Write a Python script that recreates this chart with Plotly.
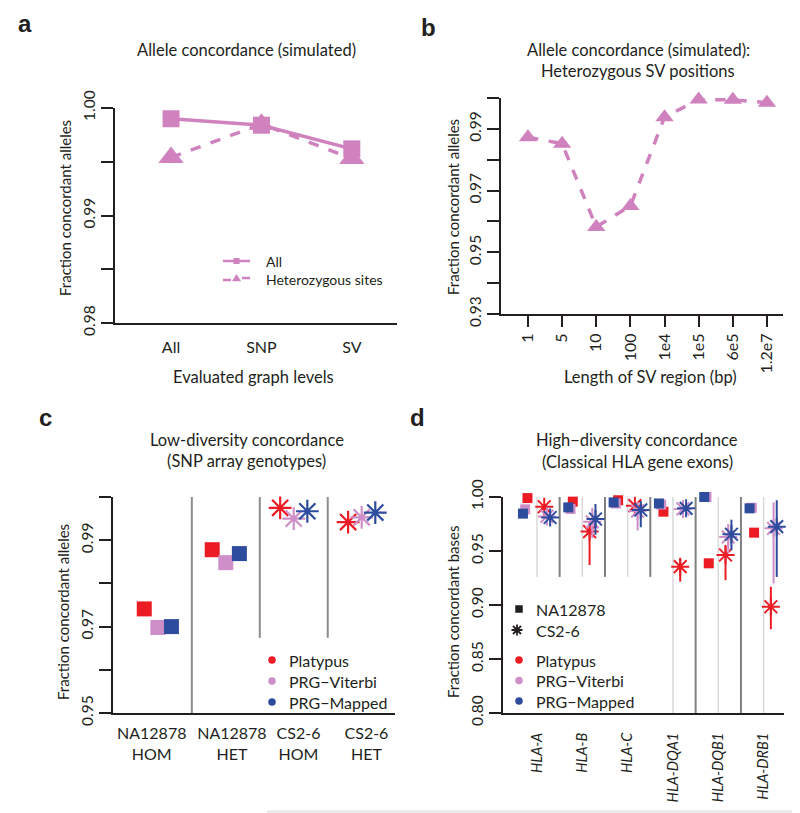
import plotly.graph_objects as go

# The page body adds an 8px margin, so the figure is 792x805 and every
# reference pixel position is shifted by 8px.
W, H = 800, 813
OFF = 8
FW, FH = W - OFF, H - OFF
FONT = "Lato"
TXT = "#231f20"
PINK_A = "#CF82BE"
RED = "#EC1C24"
PINK = "#CE8EC8"
BLUE = "#2E4C9E"

# ---------------- data ----------------
# Panel a
levels = ["All", "SNP", "SV"]
conc_all = [0.9990, 0.9984, 0.9962]
conc_het = [0.9954, 0.9985, 0.9953]

# Panel b
sv_lengths = ["1", "5", "10", "100", "1e4", "1e5", "6e5", "1.2e7"]
sv_het_conc = [0.9873, 0.9852, 0.9582, 0.9650, 0.9938, 0.9995, 0.9994, 0.9985]

# Panel c
snp_groups = ["NA12878<br>HOM", "NA12878<br>HET", "CS2-6<br>HOM", "CS2-6<br>HET"]
snp_group_sample = ["NA12878", "NA12878", "CS2-6", "CS2-6"]
snp_platypus = [0.9741, 0.9878, 0.9975, 0.9942]
snp_viterbi = [0.9698, 0.9848, 0.9950, 0.9953]
snp_mapped = [0.9700, 0.9869, 0.9967, 0.9964]

# Panel d
genes = ["HLA-A", "HLA-B", "HLA-C", "HLA-DQA1", "HLA-DQB1", "HLA-DRB1"]
na_platypus = [0.9990, 0.9957, 0.9970, 0.9864, 0.9386, 0.9670]
na_viterbi = [0.9886, 0.9890, 0.9940, 0.9930, 1.0000, 0.9900]
na_mapped = [0.9846, 0.9904, 0.9950, 0.9940, 1.0000, 0.9895]
cs_platypus = [0.9910, 0.9680, 0.9920, 0.9355, 0.9463, 0.8984]
cs_viterbi = [0.9820, 0.9770, 0.9870, 0.9890, 0.9630, 0.9710]
cs_mapped = [0.9810, 0.9796, 0.9880, 0.9895, 0.9655, 0.9725]
cs_platypus_lo = [None, 0.9370, None, 0.9216, 0.9230, 0.8775]
cs_platypus_hi = [None, 0.9740, None, 0.9426, 0.9556, 0.9170]
cs_viterbi_lo = [None, 0.9620, 0.9690, None, 0.9480, 0.9200]
cs_viterbi_hi = [None, 0.9900, 0.9920, None, 0.9750, 0.9950]
cs_mapped_lo = [None, 0.9650, 0.9720, None, 0.9510, 0.9260]
cs_mapped_hi = [None, 0.9935, 0.9940, None, 0.9790, 0.9970]

methods = ["Platypus", "PRG\u2212Viterbi", "PRG\u2212Mapped"]
samples = ["NA12878", "CS2-6"]
method_colors = [RED, PINK, BLUE]


def px(x):
    return (x - OFF) / FW


def py(y):
    return 1 - (y - OFF) / FH


def xd(p0, p1):
    return [px(p0), px(p1)]


def yd(top, bottom):
    return [py(bottom), py(top)]


fig = go.Figure()

# ---------------- panel a ----------------
xa = list(range(1, len(levels) + 1))
fig.add_trace(go.Scatter(x=xa, y=conc_all, mode="lines+markers", xaxis="x", yaxis="y",
                         line=dict(color=PINK_A, width=3.5),
                         marker=dict(symbol="square", size=17, color=PINK_A, opacity=1),
                         showlegend=False, cliponaxis=False))
fig.add_trace(go.Scatter(x=xa, y=conc_het, mode="lines+markers", xaxis="x", yaxis="y",
                         line=dict(color=PINK_A, width=3.5, dash="dash"),
                         marker=dict(symbol="triangle-up", size=22, color=PINK_A, opacity=1),
                         showlegend=False, cliponaxis=False))

# ---------------- panel b ----------------
xb = list(range(1, len(sv_lengths) + 1))
fig.add_trace(go.Scatter(x=xb, y=sv_het_conc, mode="lines+markers", xaxis="x2", yaxis="y2",
                         line=dict(color=PINK_A, width=3.5, dash="dash"),
                         marker=dict(symbol="triangle-up", size=16, color=PINK_A, opacity=1),
                         showlegend=False, cliponaxis=False))

# ---------------- panel c ----------------
c_offsets = [-0.2, 0.0, 0.2]
c_series = [snp_platypus, snp_viterbi, snp_mapped]
for m, (vals, col, off) in enumerate(zip(c_series, method_colors, c_offsets)):
    xs = [i + 1 + off for i in range(len(snp_groups))]
    symbols = ["square" if s == "NA12878" else "asterisk-open" for s in snp_group_sample]
    sizes = [15 if s == "NA12878" else 19 for s in snp_group_sample]
    lw = [0 if s == "NA12878" else 2.2 for s in snp_group_sample]
    fig.add_trace(go.Scatter(x=xs, y=vals, mode="markers", xaxis="x3", yaxis="y3",
                             name=methods[m],
                             marker=dict(symbol=symbols, size=sizes, color=col, opacity=1,
                                         line=dict(color=col, width=lw)),
                             showlegend=False, cliponaxis=False))

# ---------------- panel d ----------------
na_series = [na_platypus, na_viterbi, na_mapped]
cs_series = [cs_platypus, cs_viterbi, cs_mapped]
cs_lo = [cs_platypus_lo, cs_viterbi_lo, cs_mapped_lo]
cs_hi = [cs_platypus_hi, cs_viterbi_hi, cs_mapped_hi]
na_off = [-0.21, -0.26, -0.31]
cs_off = [0.16, 0.22, 0.29]
for m in range(3):
    col = method_colors[m]
    xs = [i + 1 + na_off[m] for i in range(len(genes))]
    fig.add_trace(go.Scatter(x=xs, y=na_series[m], mode="markers", xaxis="x4", yaxis="y4",
                             name=methods[m] + " NA12878",
                             marker=dict(symbol="square", size=10, color=col, opacity=1),
                             showlegend=False, cliponaxis=False))
for m in range(3):
    col = method_colors[m]
    xs = [i + 1 + cs_off[m] for i in range(len(genes))]
    vals = cs_series[m]
    plus = [(h - v) if h is not None else 0 for v, h in zip(vals, cs_hi[m])]
    minus = [(v - l) if l is not None else 0 for v, l in zip(vals, cs_lo[m])]
    fig.add_trace(go.Scatter(x=xs, y=vals, mode="markers", xaxis="x4", yaxis="y4",
                             name=methods[m] + " CS2-6",
                             marker=dict(symbol="asterisk-open", size=15, color=col, opacity=1,
                                         line=dict(color=col, width=2)),
                             error_y=dict(type="data", symmetric=False, array=plus,
                                          arrayminus=minus, color=col, thickness=2, width=0),
                             showlegend=False, cliponaxis=False))

# ---------------- shapes: separators ----------------
shapes = []
n_c = len(snp_groups)
for k in range(1, n_c):
    y0 = 0.95 if k == 1 else 0.9674
    shapes.append(dict(type="line", xref="x3", yref="y3", x0=k + 0.5, x1=k + 0.5,
                       y0=y0, y1=1.0, line=dict(color="#8c8c8c", width=2), layer="below"))
n_d = len(genes)
for k in range(1, n_d + 1):
    y0 = 0.926 if k <= 3 else 0.80
    shapes.append(dict(type="line", xref="x4", yref="y4", x0=k, x1=k,
                       y0=y0, y1=1.0, line=dict(color="#d9d9d9", width=1.5), layer="below"))
for k in range(1, n_d):
    y0 = 0.926 if k <= 3 else 0.80
    shapes.append(dict(type="line", xref="x4", yref="y4", x0=k + 0.5, x1=k + 0.5,
                       y0=y0, y1=1.0, line=dict(color="#808080", width=2), layer="below"))
shapes.append(dict(type="line", xref="paper", yref="paper", x0=px(267), x1=1.0,
                   y0=py(811.5), y1=py(811.5), line=dict(color="#e4e4e4", width=2)))


# ---------------- legend glyphs (drawn as shapes) ----------------
def glyph(cx, cy, kind, size, color, lw=1.6):
    s = dict(xref="paper", yref="paper", xsizemode="pixel", ysizemode="pixel",
             xanchor=px(cx), yanchor=py(cy), layer="above")
    h = size / 2.0
    if kind == "square":
        s.update(type="rect", x0=-h, x1=h, y0=-h, y1=h, fillcolor=color, line=dict(width=0))
    elif kind == "circle":
        s.update(type="circle", x0=-h, x1=h, y0=-h, y1=h, fillcolor=color, line=dict(width=0))
    elif kind == "triangle":
        s.update(type="path", path="M%.1f,%.1f L%.1f,%.1f L0,%.1f Z" % (-h, -h * 0.6, h, -h * 0.6, h * 1.0),
                 fillcolor=color, line=dict(width=0))
    elif kind == "asterisk":
        d = h * 0.72
        s.update(type="path",
                 path="M0,%.1f L0,%.1f M%.1f,0 L%.1f,0 M%.1f,%.1f L%.1f,%.1f M%.1f,%.1f L%.1f,%.1f"
                      % (h, -h, -h, h, -d, -d, d, d, -d, d, d, -d),
                 line=dict(color=color, width=lw))
    return s


def seg(x0, x1, y, color, width):
    return dict(type="line", xref="paper", yref="paper", x0=px(x0), x1=px(x1), y0=py(y), y1=py(y),
                line=dict(color=color, width=width), layer="above")


# panel a legend
shapes.append(seg(223, 250, 261, PINK_A, 2.5))
shapes.append(glyph(236.5, 261, "square", 6, PINK_A))
shapes.append(seg(223, 231, 280, PINK_A, 2.5))
shapes.append(seg(242, 250, 278, PINK_A, 2.5))
shapes.append(glyph(236.5, 278.5, "triangle", 9, PINK_A))
# panel c legend
for m in range(3):
    shapes.append(glyph(272, 660 + 21 * m, "circle", 7.5, method_colors[m]))
# panel d legend
shapes.append(glyph(519, 609, "square", 7.5, TXT))
shapes.append(glyph(517, 630, "asterisk", 11, TXT, 1.8))
for m in range(3):
    shapes.append(glyph(519, 660 + 20.5 * m, "circle", 7.5, method_colors[m]))

# ---------------- axes ----------------
tf = dict(family=FONT, size=15.5, color=TXT)
tfx = dict(family=FONT, size=16, color=TXT)
tfd = dict(family=FONT, size=14.5, color=TXT)
common = dict(showline=True, linewidth=2, linecolor=TXT, showgrid=False, zeroline=False,
              tickcolor=TXT, tickwidth=2, tickfont=tf, automargin=False)


def yticks(lo, hi, step, labelevery):
    n = int(round((hi - lo) / step))
    vals = [round(lo + i * step, 4) for i in range(n + 1)]
    text = [("%.2f" % v) if i % labelevery == 0 else "" for i, v in enumerate(vals)]
    return vals, text


ya_v, ya_t = yticks(0.98, 1.00, 0.005, 2)
yb_v, yb_t = yticks(0.93, 1.00, 0.01, 2)
yc_v, yc_t = yticks(0.95, 1.00, 0.01, 2)
yd_v, yd_t = yticks(0.80, 1.00, 0.05, 1)

# label anchor positions for panel c categories (nudged like the original)
c_label_pos = [0.91, 2.09, 3.07, 4.07]

layout = dict(
    template="none",
    width=FW, height=FH, margin=dict(l=0, r=0, t=0, b=0, pad=0, autoexpand=False),
    paper_bgcolor="white", plot_bgcolor="white", showlegend=False,
    font=dict(family=FONT, color=TXT),
    xaxis=dict(common, domain=xd(115, 397), range=[0.38, 3.5], tickvals=xa, ticktext=levels,
               ticks="", ticklabelstandoff=9, tickfont=tfx, tickangle=0, anchor="y"),
    yaxis=dict(common, domain=yd(108, 323), range=[0.98, 1.0], tickvals=ya_v, ticktext=ya_t,
               ticks="outside", ticklen=12, tickangle=-90, anchor="x"),
    xaxis2=dict(common, domain=xd(501, 783), range=[0.21, 8.47], tickvals=xb, ticktext=sv_lengths,
                ticks="outside", ticklen=11, tickangle=-90, tickfont=tfx, anchor="y2"),
    yaxis2=dict(common, domain=yd(98, 314), range=[0.93, 1.0], tickvals=yb_v, ticktext=yb_t,
                ticks="outside", ticklen=12, tickangle=-90, anchor="x2"),
    xaxis3=dict(common, domain=xd(113, 395), range=[0.34, 4.49],
                tickvals=c_label_pos, ticktext=snp_groups,
                ticks="", ticklabelstandoff=5, tickfont=tfx, tickangle=0, anchor="y3"),
    yaxis3=dict(common, domain=yd(497, 713), range=[0.95, 1.0], tickvals=yc_v, ticktext=yc_t,
                ticks="outside", ticklen=12, tickangle=-90, anchor="x3"),
    xaxis4=dict(common, domain=xd(503, 784), range=[0.25, 6.45],
                tickvals=list(range(1, n_d + 1)), ticktext=["<i>%s</i>" % g for g in genes],
                ticks="", tickangle=-90, ticklabelstandoff=12, tickfont=tfd, anchor="y4"),
    yaxis4=dict(common, domain=yd(497, 713), range=[0.80, 1.0], tickvals=yd_v, ticktext=yd_t,
                ticks="outside", ticklen=12, tickangle=-90, anchor="x4"),
    shapes=shapes,
)
fig.update_layout(**layout)

# ---------------- annotations ----------------
ann = []


def text(x, y, s, size=15, angle=0, bold=False, anchor="center"):
    ann.append(dict(x=px(x), y=py(y), xref="paper", yref="paper", text=("<b>%s</b>" % s) if bold else s,
                    showarrow=False, textangle=angle, xanchor=anchor, yanchor="middle",
                    font=dict(family=FONT if not bold else "Liberation Sans", size=size, color=TXT)))


text(25, 24, "a", size=24, bold=True)
text(428, 27, "b", size=24, bold=True)
text(45, 417, "c", size=24, bold=True)
text(418, 418, "d", size=24, bold=True)

TS = 16.5
text(247, 50, "Allele concordance (simulated)", size=TS)
text(638, 50, "Allele concordance (simulated):", size=TS)
text(638, 71, "Heterozygous SV positions", size=TS)
text(247, 440, "Low-diversity concordance", size=TS)
text(247, 461, "(SNP array genotypes)", size=TS)
text(637, 440, "High\u2212diversity concordance", size=TS)
text(637, 462, "(Classical HLA gene exons)", size=TS)

text(65, 208, "Fraction concordant alleles", size=15, angle=-90)
text(453, 207, "Fraction concordant alleles", size=15, angle=-90)
text(63, 612, "Fraction concordant alleles", size=15, angle=-90)
text(453, 612, "Fraction concordant bases", size=15, angle=-90)

text(253, 377, "Evaluated graph levels", size=TS)
text(650, 377, "Length of SV region (bp)", size=TS)

# legend texts
text(264, 261, "All", size=14, anchor="left")
text(264, 279, "Heterozygous sites", size=14, anchor="left")
for m in range(3):
    text(287, 660 + 21 * m, methods[m], size=16, anchor="left")
text(534, 609, samples[0], size=16, anchor="left")
text(534, 630, samples[1], size=16, anchor="left")
for m in range(3):
    text(534, 660 + 20.5 * m, methods[m], size=16, anchor="left")

fig.update_layout(annotations=ann)

fig.write_html("out.html")
